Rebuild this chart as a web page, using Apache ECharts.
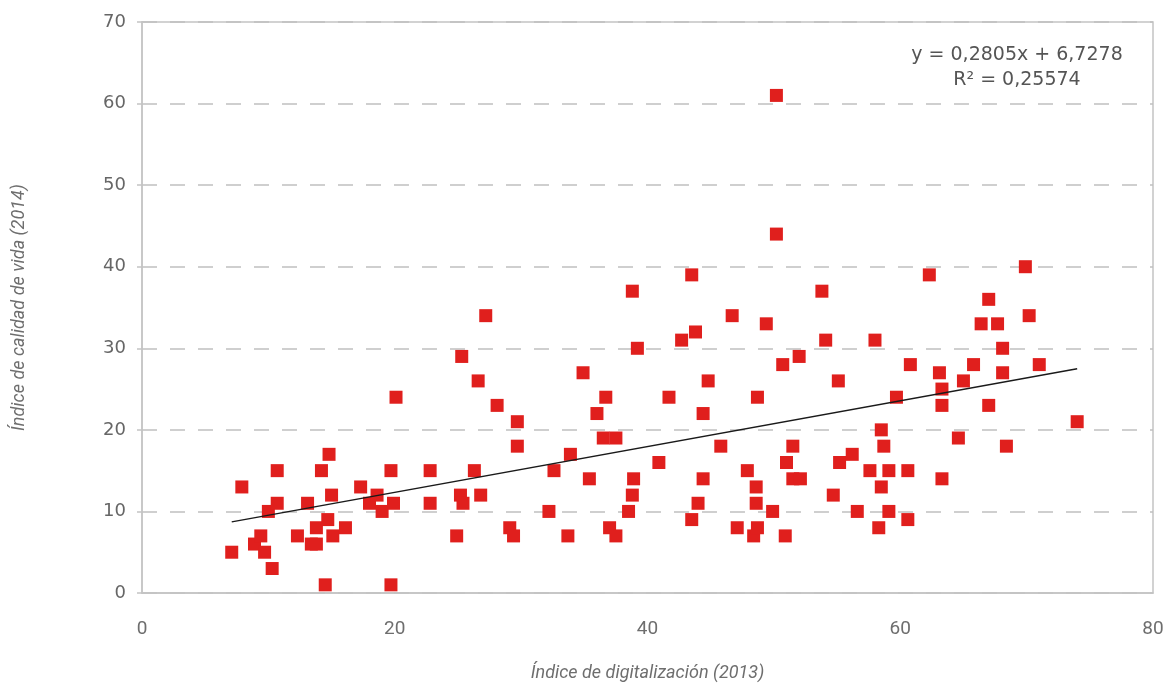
<!DOCTYPE html>
<html>
<head>
<meta charset="utf-8">
<script src="https://cdn.jsdelivr.net/npm/echarts@6/dist/echarts.min.js"></script>
<style>
  html, body { margin: 0; padding: 0; background: #fff; }
  #chart { width: 1172px; height: 687px; }
</style>
</head>
<body>
<div id="chart"></div>
<script>
// Índice de digitalización (2013) per country
const digitalizacion = [
  7.1, 7.9, 8.9, 9.4, 9.7, 10.0, 10.3, 10.7, 10.7, 12.3,
  13.1, 13.4, 13.8, 13.8, 14.2, 14.5, 14.7, 14.8, 15.1, 15.0,
  16.1, 17.3, 18.0, 18.6, 19.0, 19.7, 19.7, 19.9, 20.1, 22.8,
  22.8, 24.9, 25.3, 25.2, 25.4, 26.6, 26.3, 26.8, 27.2, 28.1,
  29.1, 29.4, 29.7, 29.7, 32.2, 32.6, 33.7, 33.9, 34.9, 35.4,
  36.0, 36.7, 36.5, 37.5, 37.0, 37.5, 38.8, 38.5, 38.8, 38.9,
  39.2, 40.9, 41.7, 42.7, 43.5, 43.8, 43.5, 44.0, 44.4, 44.4,
  44.8, 45.8, 46.7, 47.1, 47.9, 48.6, 48.6, 48.4, 48.7, 48.7,
  49.4, 49.9, 50.2, 50.2, 50.7, 50.9, 51.0, 51.5, 51.5, 52.1,
  52.0, 53.8, 54.1, 54.7, 55.1, 55.2, 56.2, 56.6, 57.6, 58.0,
  58.3, 58.5, 58.5, 58.7, 59.1, 59.1, 59.7, 60.6, 60.6, 60.8,
  62.3, 63.1, 63.3, 63.3, 63.3, 64.6, 65.0, 65.8, 66.4, 67.0,
  67.0, 67.7, 68.1, 68.1, 68.4, 69.9, 70.2, 71.0, 74.0
];
// Índice de calidad de vida (2014) for the same countries
const calidadVida = [
  5, 13, 6, 7, 5, 10, 3, 15, 11, 7,
  11, 6, 6, 8, 15, 1, 9, 17, 7, 12,
  8, 13, 11, 12, 10, 1, 15, 11, 24, 15,
  11, 7, 29, 12, 11, 26, 15, 12, 34, 23,
  8, 7, 21, 18, 10, 15, 7, 17, 27, 14,
  22, 24, 19, 19, 8, 7, 37, 10, 12, 14,
  30, 16, 24, 31, 39, 32, 9, 11, 22, 14,
  26, 18, 34, 8, 15, 13, 11, 7, 8, 24,
  33, 10, 61, 44, 28, 7, 16, 18, 14, 14,
  29, 37, 31, 12, 26, 16, 17, 10, 15, 31,
  8, 20, 13, 18, 15, 10, 24, 15, 9, 28,
  39, 27, 23, 25, 14, 19, 26, 28, 33, 36,
  23, 33, 30, 27, 18, 40, 34, 28, 21
];

// Linear fit shown in the annotation
const slope = 0.2805;
const intercept = 6.7278;
const r2 = 0.25574;

const xTicks = [0, 20, 40, 60, 80];
const yTicks = [0, 10, 20, 30, 40, 50, 60, 70];

const fmt = (v, d) => v.toFixed(d).replace('.', ',');
const points = digitalizacion.map((x, i) => [x, calidadVida[i]]);
const xMin = Math.min(...digitalizacion);
const xMax = Math.max(...digitalizacion);
const trend = [[xMin, slope * xMin + intercept], [xMax, slope * xMax + intercept]];

const labelGray = '#6e6e6e';
const narrowFont = "'Liberation Sans Narrow', 'Roboto', sans-serif";
const chart = echarts.init(document.getElementById('chart'), null, { renderer: 'canvas' });
chart.setOption({
  animation: false,
  backgroundColor: '#ffffff',
  grid: {
    left: 142, right: 19, top: 22, bottom: 90,
    show: true, borderColor: '#c4c4c4', borderWidth: 1.5
  },
  xAxis: {
    type: 'value',
    min: xTicks[0], max: xTicks[xTicks.length - 1], interval: 20,
    name: 'Índice de digitalización (2013)',
    nameLocation: 'middle', nameGap: 71,
    nameTextStyle: { color: labelGray, fontSize: 18, fontStyle: 'italic', fontFamily: narrowFont },
    axisLine: { show: true, lineStyle: { color: '#c4c4c4', width: 1.5 } },
    axisTick: { show: false },
    splitLine: { show: false },
    axisLabel: { color: labelGray, fontSize: 19, margin: 27, fontFamily: narrowFont }
  },
  yAxis: {
    type: 'value',
    min: yTicks[0], max: yTicks[yTicks.length - 1], interval: 10,
    name: 'Índice de calidad de vida (2014)',
    nameLocation: 'middle', nameGap: 114,
    nameTextStyle: { color: labelGray, fontSize: 18, fontStyle: 'italic', fontFamily: narrowFont },
    axisLine: { show: true, lineStyle: { color: '#c4c4c4', width: 1.5 } },
    axisTick: { show: true, length: 5, lineStyle: { color: '#c4c4c4', width: 1.5 } },
    splitLine: { show: true, lineStyle: { color: '#c0c0c0', width: 1.5, type: [15, 13] } },
    axisLabel: { color: '#666', fontSize: 18, margin: 16, fontFamily: "'DejaVu Sans', sans-serif" }
  },
  series: [
    {
      type: 'scatter',
      data: points,
      symbol: 'rect',
      symbolSize: 13,
      itemStyle: { color: '#e01f1d', opacity: 1 },
      z: 3
    },
    {
      type: 'line',
      data: trend,
      symbol: 'none',
      lineStyle: { color: '#1a1a1a', width: 1.5 },
      z: 4
    }
  ],
  graphic: [
    {
      type: 'text', x: 1017, y: 55,
      style: {
        text: 'y = ' + fmt(slope, 4) + 'x + ' + fmt(intercept, 4),
        fill: '#555', fontSize: 19, fontFamily: "'DejaVu Sans', sans-serif",
        align: 'center', verticalAlign: 'middle'
      }
    },
    {
      type: 'text', x: 1017, y: 80,
      style: {
        text: 'R² = ' + fmt(r2, 5),
        fill: '#555', fontSize: 19, fontFamily: "'DejaVu Sans', sans-serif",
        align: 'center', verticalAlign: 'middle'
      }
    }
  ]
});
</script>
</body>
</html>
